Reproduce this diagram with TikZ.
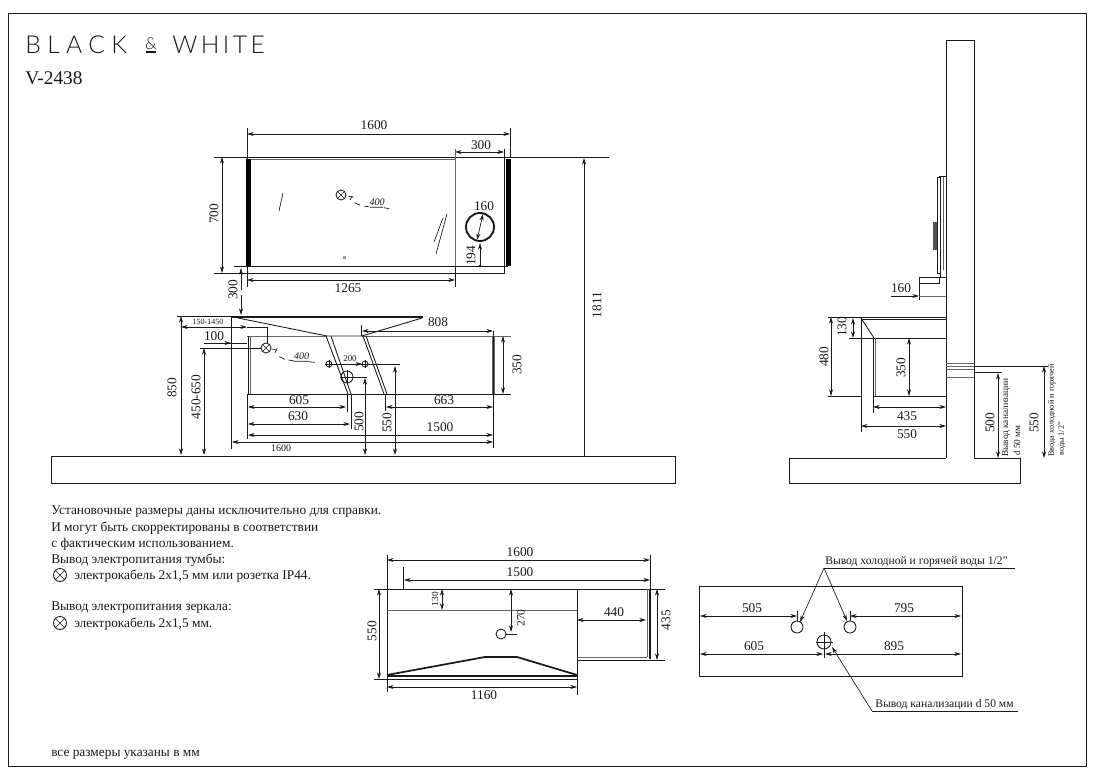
\documentclass[tikz,border=0pt]{standalone}
\usepackage{fontspec}
\setmainfont{Liberation Serif}
\newfontfamily\brandfont[LetterSpace=26]{Lato Light}
\newfontfamily\brandfontb[LetterSpace=14]{Lato Light}
\usetikzlibrary{arrows.meta}
\definecolor{ink}{HTML}{1A1A1A}
\definecolor{gline}{HTML}{666666}
\newcounter{lblc}
% text helpers: x, y, text
\newcommand{\fs}[1]{\fontsize{#1}{#1}\selectfont}
\newcommand{\dt}[3]{\stepcounter{lblc}\node[dimtext] (t\thelblc) at (#1,#2) {#3};}
\newcommand{\dv}[3]{\stepcounter{lblc}\node[dimtext,rotate=90] (t\thelblc) at (#1,#2) {#3};}
\newcommand{\st}[4]{\stepcounter{lblc}\node[dimtext,font=\fs{#1}] (t\thelblc) at (#2,#3) {#4};}
\newcommand{\sv}[4]{\stepcounter{lblc}\node[dimtext,rotate=90,font=\fs{#1}] (t\thelblc) at (#2,#3) {#4};}
\newcommand{\lt}[3]{\stepcounter{lblc}\node[dimtext,anchor=west,font=\fs{10}] (t\thelblc) at (#1,#2+1) {#3};}
\newcommand{\xm}[3]{\draw[body] (#1,#2) circle (#3); \draw[thin1] (#1,#2)+(-#3*.7,-#3*.7) -- +(#3*.7,#3*.7) (#1,#2)+(-#3*.7,#3*.7) -- +(#3*.7,-#3*.7);}
\newcommand{\tg}[3]{\draw[body] (#1,#2) circle (#3); \draw[thin1] (#1,#2)+(-#3*1.2,0) -- +(#3*1.2,0) (#1,#2)+(0,-#3*1.2) -- +(0,#3*1.2);}
\begin{document}
\begin{tikzpicture}[x=0.75pt,y=-0.75pt,
  thin1/.style={draw=ink,line width=0.5pt},
  body/.style={draw=ink,line width=0.65pt},
  heavy/.style={draw=ink,line width=1.3pt},
  gray1/.style={draw=gline,line width=0.7pt},
  dim/.style={draw=ink,line width=0.5pt,{Stealth[length=5pt,width=3pt]}-{Stealth[length=5pt,width=3pt]}},
  arr/.style={draw=ink,line width=0.5pt,-{Stealth[length=5pt,width=3pt]}},
  dimtext/.style={inner sep=0pt,text=ink,font=\fs{10}},
]
\useasboundingbox (0,0) rectangle (1100,780);
\fill[white] (0,0) rectangle (1100,780);
\draw[body] (8,13) rectangle (1086,766);

% ---- heading
\node[inner sep=0pt,anchor=west,text=ink,font=\brandfont\fs{18.5}] (brandA) at (25,45) {BLACK};
\node[inner sep=0pt,text=ink,font=\fontspec{Lato Light}\fs{12.5}] (brandB) at (151,43.5) {\&};
\draw[draw=ink,line width=1pt] (145.5,52) -- (156,52);
\node[inner sep=0pt,anchor=west,text=ink,font=\brandfontb\fs{18.5}] (brandC) at (172,45) {WHITE};
\node[inner sep=0pt,anchor=west,text=ink,font=\fs{14.5}] (model) at (25,78) {V-2438};

% ---- floors and wall
\draw[body] (51,456) rectangle (675,483);
\draw[body] (974,458) -- (1020,458) -- (1020,483) -- (789,483) -- (789,458) -- (946,458);
\draw[body] (946,458) -- (946,40) -- (974,40) -- (974,458);

% ---- mirror front
\draw[thin1] (214,157) -- (609,157);
\fill[black] (246,159) rectangle (251,267);
\fill[black] (506,159) rectangle (511,266);
\draw[gray1] (251,159) -- (455,159);
\draw[body] (234,266) -- (508,266);
\draw[body] (214,273) -- (504,273) -- (504,149);
\draw[gray1] (455,266) -- (455,149);
\draw[thin1] (455,266) -- (455,287);
\draw[thin1] (247,128) -- (247,159) (247,267) -- (247,287);
\draw[thin1] (510,128) -- (510,157);
\draw[dim] (247,134) -- (510,134); \dt{374}{125}{1600}
\draw[dim] (455,152) -- (504,152); \dt{481}{145}{300}
\draw[dim] (222,157) -- (222,273); \dv{214}{214}{700}
\draw[dim] (247,280) -- (455,280); \dt{348}{288}{1265}
\xm{341}{195}{5}
\draw[thin1] (348.3,196) -- (353.3,197.3) (350,200) -- (352.3,196) (354.3,202.7) -- (360,205) (364.3,206.3) -- (369,206.7) (370,207.3) -- (383,207.3) (384,207.7) -- (389.3,208.7);
\st{7.5}{377}{202.5}{\itshape 400}
\draw[thin1] (283,193) -- (279,211);
\draw[thin1] (447,214) -- (436,254) (443,218) -- (434,242);
\fill[gline!70] (343,256) rectangle (346,259);
\draw[draw=ink,line width=1.4pt] (480,227) circle (14);
\draw[dim] (483,214) -- (477,240); \dt{484}{206}{160}
\draw[arr] (480,266) -- (480,243); \dv{471}{256}{194}
\fill[ink] (480,266) circle (1.5);
\draw[arr] (584,456) -- (584,158); \dv{597}{305}{1811}
\draw[arr] (241,290) -- (241,268); \draw[arr] (241,295) -- (241,315); \dv{233}{290}{300}

% ---- cabinet front
\draw[thin1] (177,316) -- (231,316);
\draw[heavy] (231,317) -- (423,317);
\draw[thin1] (231,316) -- (231,449);
\draw[body] (238,318) -- (327,336) -- (362,336) -- (422,318);
\draw[gray1] (362,336) -- (511,336);
\draw[gray1] (247,336) -- (327,336);
\draw[body] (247,394) -- (511,394);
\draw[body] (248,336) -- (248,394);
\draw[gray1] (250,336) -- (250,394);
\draw[gray1] (492,336) -- (492,394);
\draw[gray1] (494,336) -- (494,394);
\draw[body] (326,336) -- (348,394) (331,336) -- (351,394);
\draw[body] (363,336) -- (384,394) (366,336) -- (387,394);
\draw[thin1] (361,325) -- (361,336);
\draw[thin1] (493,331) -- (493,448);
\draw[dim] (362,331) -- (493,331); \dt{438}{322}{808}
\draw[dim] (503,336) -- (503,394); \dv{517}{365}{350}
\draw[dim] (181,327) -- (247,327); \st{6}{208}{322}{150-1450}
\draw[thin1] (247,327) -- (267,327) -- (267,343);
\draw[dim] (181,316) -- (181,455); \dv{172}{388}{850}
\draw[thin1] (204,343) -- (247,343); \draw[arr] (204,343) -- (231,343); \dt{214}{336}{100}
\xm{266}{348}{5}
\draw[thin1] (200,348) -- (261,348);
\draw[dim] (204,348) -- (204,455); \dv{196}{397}{450-650}
\draw[thin1] (271.7,349) -- (276.7,350) (275,352.7) -- (277.3,348.3) (279.3,356.7) -- (285,359.3) (288.3,360) -- (293.3,360.7) (293.3,361.3) -- (308,361.3) (308.3,361.7) -- (315,362.3);
\st{7.5}{301.5}{356}{\itshape 400}
\tg{329}{364}{3} \tg{365}{364}{3}
\draw[thin1] (332,364) -- (400,364); \draw[arr] (332,364) -- (362,364);
\st{6.7}{350}{359}{200}
\draw[dim] (395,366) -- (395,455); \dv{387}{423}{550}
\tg{347}{377}{6}
\draw[thin1] (340,377) -- (367,377);
\draw[dim] (365,378) -- (365,455); \dv{359}{422}{500}
\draw[thin1] (351,394) -- (351,429) (347,394) -- (347,412) (385,394) -- (385,411) (247,394) -- (247,439);
\draw[dim] (248,407) -- (346,407); \dt{299}{400}{605}
\draw[dim] (248,424) -- (350,424); \dt{298}{416}{630}
\draw[dim] (386,407) -- (493,407); \dt{444}{400}{663}
\draw[dim] (248,435) -- (493,435); \dt{440}{427}{1500}
\draw[dim] (232,442) -- (493,442); \st{7.5}{281}{448}{1600}

% ---- side view: mirror
\draw[body] (939,176) -- (946,176);
\draw[body] (937,177) rectangle (940,273);
\draw[gray1] (943,177) -- (943,270);
\draw[body] (940,177) -- (940,277);
\fill[gline!80!black] (933,222) rectangle (937,250);
\draw[body] (919,277) -- (946,277);
\draw[body] (939,277) -- (939,283) -- (919,283);
\draw[thin1] (919,277) -- (919,300);
\draw[gray1] (919,296) -- (946,296);
\draw[arr] (891,296) -- (919,296); \dt{901}{288}{160}

% ---- side view: cabinet
\draw[thin1] (828,317) -- (861,317);
\draw[body] (861,317) -- (946,317);
\draw[body] (861,319) -- (946,319);
\draw[thin1] (861,317) -- (861,432);
\draw[body] (861,318) -- (874,338);
\draw[body] (849,338) -- (946,338);
\draw[body] (873,338) -- (873,396);
\draw[gray1] (875,338) -- (875,396);
\draw[thin1] (828,396) -- (861,396);
\draw[body] (873,396) -- (946,396);
\draw[thin1] (873,396) -- (873,413);
\draw[dim] (853,318) -- (853,338); \dv{842}{327}{130}
\draw[dim] (831,317) -- (831,396); \dv{824}{357}{480}
\draw[dim] (909,338) -- (909,396); \dv{901}{368}{350}
\draw[dim] (873,407) -- (946,407); \dt{907}{416}{435}
\draw[dim] (861,426) -- (946,426); \dt{907}{434}{550}

% ---- side view: pipes and right dims
\draw[gray1] (946,363) -- (974,363) (946,366) -- (974,366) (946,369) -- (974,369) (946,377) -- (974,377);
\draw[thin1] (974,366) -- (1048,366);
\draw[thin1] (974,372) -- (1002,372);
\draw[dim] (998,373) -- (998,458); \dv{990}{423}{500}
\draw[dim] (1044,366) -- (1044,458); \dv{1034}{423}{550}
\stepcounter{lblc}\node[dimtext,rotate=90,anchor=west,font=\fs{7}] (t\thelblc) at (1006,457) {Вывод канализации};
\stepcounter{lblc}\node[dimtext,rotate=90,anchor=west,font=\fs{7}] (t\thelblc) at (1017,456) {d 50 мм};
\stepcounter{lblc}\node[dimtext,rotate=90,anchor=west,font=\fs{6.2}] (t\thelblc) at (1052,457) {Ввода холодной и горячей};
\stepcounter{lblc}\node[dimtext,rotate=90,anchor=west,font=\fs{6.2}] (t\thelblc) at (1062,456) {воды 1/2"};

% ---- notes
\lt{51}{511}{Установочные размеры даны исключительно для справки.}
\lt{51}{527}{И могут быть скорректированы в соответствии}
\lt{51}{543}{с фактическим использованием.}
\lt{51}{559}{Вывод электропитания тумбы:}
\xm{60}{575}{6.5}
\lt{74}{575}{электрокабель 2х1,5 мм или розетка IP44.}
\lt{51}{607}{Вывод электропитания зеркала:}
\xm{60}{623}{6.5}
\lt{74}{623}{электрокабель 2х1,5 мм.}
\lt{51}{754}{все размеры указаны в мм}

% ---- plan: cabinet top
\draw[thin1] (374,589) -- (665,589);
\draw[thin1] (374,679) -- (577,679);
\draw[body] (387,589) -- (387,679);
\draw[thin1] (387,679) -- (387,692);
\draw[thin1] (387,555) -- (387,589);
\draw[thin1] (650,555) -- (650,589);
\draw[thin1] (403,567) -- (403,589);
\draw[body] (577,589) -- (577,679);
\draw[thin1] (577,679) -- (577,695);
\draw[gray1] (387,610) -- (577,610);
\draw[dim] (387,560) -- (650,560); \dt{520}{552}{1600}
\draw[dim] (404,580) -- (650,580); \dt{520}{572}{1500}
\draw[dim] (442,589) -- (442,610); \sv{7}{435}{599}{130}
\draw[dim] (511,589) -- (511,632); \sv{8.5}{521}{618}{270}
\draw[body] (501,634) circle (5);
\draw[thin1] (506,634) -- (517,634);
\draw[heavy] (387,675) -- (485,657) -- (517,657) -- (577,675);
\draw[heavy] (387,676) -- (577,676);
\draw[gray1] (577,657) -- (647,657);
\draw[body] (577,660) -- (665,660);
\draw[gray1] (647,589) -- (647,657);
\draw[heavy] (650,589) -- (650,659);
\draw[dim] (577,620) -- (646,620); \dt{614}{612}{440}
\draw[dim] (657,589) -- (657,660); \dv{666}{620}{435}
\draw[dim] (379,589) -- (379,679); \dv{372}{631}{550}
\draw[dim] (387,687) -- (577,687); \dt{484}{695}{1160}

% ---- plan: hole positions
\draw[body] (699,586) rectangle (962,676);
\draw[body] (797,627) circle (6);
\draw[body] (850,627) circle (6);
\draw[body] (824,642) circle (7);
\draw[thin1] (816,642) -- (833,642) (824,632) -- (824,658);
\draw[thin1] (797,611) -- (797,621) (850,611) -- (850,621);
\draw[dim] (700,616) -- (797,616); \dt{752}{608}{505}
\draw[dim] (850,616) -- (961,616); \dt{904}{608}{795}
\draw[dim] (700,654) -- (823,654); \dt{754}{646}{605}
\draw[dim] (825,654) -- (961,654); \dt{894}{646}{895}
\draw[thin1] (824,568) -- (1015,568);
\draw[arr] (824,568) -- (800,622);
\draw[arr] (824,568) -- (847,621);
\stepcounter{lblc}\node[dimtext,anchor=west,font=\fs{8.7}] (t\thelblc) at (825,562) {Вывод холодной и горячей воды 1/2"};
\draw[thin1] (1018,711) -- (872,711);
\draw[arr] (872,711) -- (832,647);
\stepcounter{lblc}\node[dimtext,anchor=west,font=\fs{8.7}] (t\thelblc) at (875,705) {Вывод канализации d 50 мм};
\end{tikzpicture}
\end{document}
